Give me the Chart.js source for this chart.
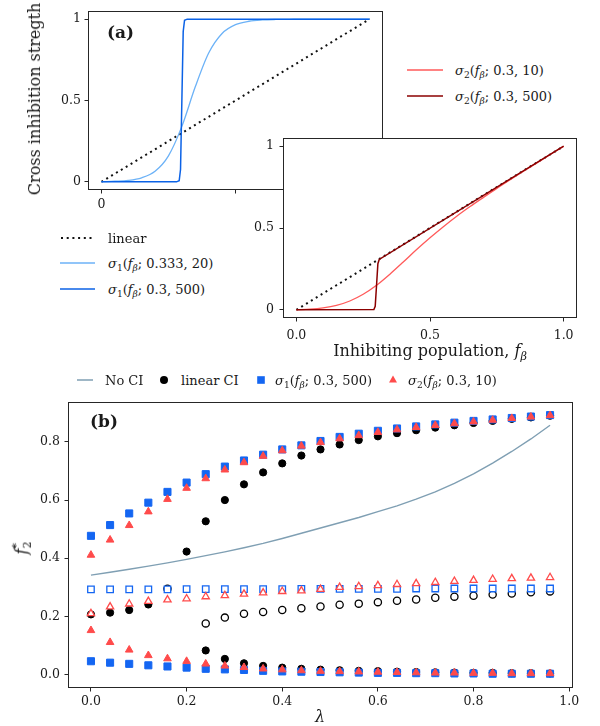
<!DOCTYPE html>
<html><head><meta charset="utf-8">
<script src="https://cdn.jsdelivr.net/npm/chart.js@4.4.1/dist/chart.umd.min.js"></script>
<style>
body{margin:0;background:#fff;width:600px;height:726px;position:relative;overflow:hidden;font-family:"DejaVu Serif",serif;color:#1a1a1a}
canvas{position:absolute}
.t{position:absolute;white-space:nowrap;font-size:13px;line-height:13px;transform:translateY(-50%)}
.lab{position:absolute;white-space:nowrap;font-size:16px;line-height:16px}
sub{font-size:70%;vertical-align:-0.35em;line-height:0}
sup{font-size:70%;vertical-align:0.5em;line-height:0}
svg{position:absolute;overflow:visible}
</style></head><body>
<canvas id="ca1" width="400" height="215" style="left:0;top:0"></canvas>
<canvas id="ca2" width="360" height="215" style="left:240px;top:125px"></canvas>
<canvas id="cb" width="600" height="336" style="left:0;top:390px"></canvas>

<!-- panel (a) texts -->
<div class="lab" style="left:107px;top:24px;font-weight:bold;font-size:17px;line-height:17px">(a)</div>
<div class="lab" style="left:35px;top:99px;transform:translate(-50%,-50%) rotate(-90deg)">Cross inhibition stregth</div>
<div class="lab" style="left:430px;top:351px;transform:translate(-50%,-50%)">Inhibiting population, <i>f</i><sub><i>β</i></sub></div>

<!-- panel (a) left legend -->
<svg style="left:60px;top:238px" width="36" height="2"><line x1="1" y1="0" x2="35" y2="0" stroke="#111" stroke-width="2" stroke-dasharray="2,3.7"/></svg>
<div class="t" style="left:108px;top:238px">linear</div>
<svg style="left:60px;top:263px" width="36" height="2"><line x1="0" y1="0" x2="35" y2="0" stroke="#6cb2f7" stroke-width="1.5"/></svg>
<div class="t" style="left:108px;top:263px"><i>σ</i><sub>1</sub>(<i>f</i><sub><i>β</i></sub>; 0.333, 20)</div>
<svg style="left:60px;top:289px" width="36" height="2"><line x1="0" y1="0" x2="35" y2="0" stroke="#0b62e6" stroke-width="1.5"/></svg>
<div class="t" style="left:108px;top:289px"><i>σ</i><sub>1</sub>(<i>f</i><sub><i>β</i></sub>; 0.3, 500)</div>

<!-- panel (a) right legend -->
<svg style="left:407px;top:70px" width="36" height="2"><line x1="0" y1="0" x2="36" y2="0" stroke="#ff5a5a" stroke-width="1.5"/></svg>
<div class="t" style="left:455px;top:70px"><i>σ</i><sub>2</sub>(<i>f</i><sub><i>β</i></sub>; 0.3, 10)</div>
<svg style="left:407px;top:96px" width="36" height="2"><line x1="0" y1="0" x2="36" y2="0" stroke="#8b0000" stroke-width="1.5"/></svg>
<div class="t" style="left:455px;top:96px"><i>σ</i><sub>2</sub>(<i>f</i><sub><i>β</i></sub>; 0.3, 500)</div>

<!-- panel (b) legend -->
<svg style="left:77px;top:380px" width="17" height="2"><line x1="0" y1="0" x2="16" y2="0" stroke="#7f9fb3" stroke-width="1.5"/></svg>
<div class="t" style="left:105px;top:380px">No CI</div>
<svg style="left:164px;top:380px" width="2" height="2"><circle cx="0" cy="0" r="4" fill="#000"/></svg>
<div class="t" style="left:181px;top:380px">linear CI</div>
<svg style="left:261px;top:380px" width="2" height="2"><rect x="-3.8" y="-3.8" width="7.6" height="7.6" fill="#1466f2"/></svg>
<div class="t" style="left:275px;top:380px"><i>σ</i><sub>1</sub>(<i>f</i><sub><i>β</i></sub>; 0.3, 500)</div>
<svg style="left:393px;top:380px" width="2" height="2"><polygon points="0,-4.6 4,2.4 -4,2.4" fill="#ff4b4b"/></svg>
<div class="t" style="left:408px;top:380px"><i>σ</i><sub>2</sub>(<i>f</i><sub><i>β</i></sub>; 0.3, 10)</div>

<!-- panel (b) texts -->
<div class="lab" style="left:90px;top:413px;font-weight:bold;font-size:17px;line-height:17px">(b)</div>
<div class="lab" style="left:22px;top:548px;transform:translate(-50%,-50%) rotate(-90deg)"><i>f</i><span style="display:inline-block;vertical-align:middle;font-size:70%;line-height:1;text-align:left"><span style="display:block">*</span><span style="display:block">2</span></span></div>
<div class="lab" style="left:320px;top:717px;transform:translate(-50%,-50%)"><i>λ</i></div>

<script>
// ---------- panel (b) data ----------
const lambda = [0,0.04,0.08,0.12,0.16,0.2,0.24,0.28,0.32,0.36,0.4,0.44,0.48,0.52,0.56,0.6,0.64,0.68,0.72,0.76,0.8,0.84,0.88,0.92,0.96];
const noCI = [0.342,0.352,0.362,0.373,0.384,0.396,0.409,0.422,0.436,0.451,0.468,0.486,0.504,0.522,0.540,0.560,0.580,0.603,0.628,0.657,0.690,0.727,0.767,0.810,0.857];
const linStable = [0.207,0.213,0.222,0.241,null,0.423,0.527,0.600,0.654,0.695,0.726,0.753,0.774,0.791,0.806,0.819,0.830,0.840,0.849,0.857,0.865,0.872,0.879,0.884,0.890];
const linStableLow = [null,null,null,null,null,null,0.083,0.054,0.039,0.030,0.024,0.020,0.017,0.015,0.013,0.012,0.010,0.009,0.008,0.007,0.006,0.006,0.005,0.005,0.004];
const linUnstable = [null,null,null,null,0.295,null,0.176,0.196,0.209,0.215,0.222,0.228,0.234,0.240,0.244,0.249,0.254,0.258,0.264,0.268,0.271,0.275,0.279,0.283,0.286];
const sig1High = [0.477,0.514,0.554,0.591,0.628,0.660,0.689,0.715,0.736,0.756,0.774,0.788,0.803,0.817,0.828,0.838,0.846,0.853,0.860,0.866,0.872,0.877,0.882,0.887,0.892];
const sig1Low = [0.046,0.041,0.037,0.032,0.028,0.024,0.020,0.018,0.016,0.013,0.011,0.010,0.009,0.008,0.007,0.006,0.006,0.005,0.005,0.004,0.004,0.003,0.003,0.003,0.003];
const sig1Unstable = [0.293,0.293,0.293,0.293,0.293,0.294,0.294,0.294,0.294,0.294,0.294,0.295,0.295,0.295,0.295,0.295,0.295,0.296,0.296,0.296,0.296,0.296,0.296,0.296,0.296];
const sig2High = [0.411,0.463,0.513,0.560,0.603,0.641,0.674,0.704,0.729,0.751,0.770,0.786,0.798,0.811,0.822,0.833,0.842,0.850,0.857,0.863,0.869,0.875,0.881,0.886,0.891];
const sig2Low = [0.152,0.111,0.085,0.066,0.055,0.046,0.037,0.030,0.025,0.020,0.017,0.014,0.012,0.011,0.010,0.009,0.008,0.007,0.006,0.006,0.005,0.005,0.004,0.004,0.004];
const sig2Unstable = [0.210,0.233,0.243,0.252,0.257,0.261,0.268,0.272,0.277,0.281,0.286,0.288,0.293,0.300,0.303,0.306,0.310,0.313,0.317,0.321,0.324,0.328,0.330,0.332,0.334];
const bTicksX = [0,0.2,0.4,0.6,0.8,1.0];
const bTicksY = [0,0.2,0.4,0.6,0.8];

// ---------- panel (a) data ----------
const fGrid = [0,0.05,0.1,0.15,0.2,0.25,0.3,0.35,0.4,0.45,0.5,0.55,0.6,0.65,0.7,0.75,0.8,0.85,0.9,0.95,1.0];
const sig1Soft = [0.001,0.004,0.009,0.025,0.065,0.160,0.341,0.584,0.792,0.912,0.966,0.987,0.995,0.998,0.999,1,1,1,1,1,1];
const sig1SharpX = [0,0.28,0.29,0.295,0.3,0.305,0.31,0.32,1];
const sig1Sharp = [0,0,0.007,0.076,0.5,0.924,0.993,1,1];
const sig2Soft = [0,0.004,0.012,0.027,0.054,0.095,0.150,0.218,0.292,0.368,0.440,0.508,0.572,0.631,0.687,0.742,0.795,0.847,0.898,0.949,0.999];
const sig2SharpX = [0,0.29,0.295,0.3,0.305,0.31,1];
const sig2Sharp = [0,0.002,0.022,0.15,0.282,0.308,1];
const linearX = [0,1];
const linearY = [0,1];

// ---------- helpers ----------
Chart.defaults.font.family = "DejaVu Serif";
Chart.defaults.color = "#1a1a1a";
const pts = (xs, ys) => xs.map((x,i)=>({x:x, y:ys[i]})).filter(p=>p.y!==null && p.y!==undefined);
const both = (a, b) => pts(lambda, a).concat(pts(lambda, b));
const INK = "#262626";

const framePlugin = {
  id: 'frame',
  beforeDraw(c, args, opts){
    if (opts && opts.fill){
      const a = c.chartArea, ctx = c.ctx;
      ctx.save(); ctx.fillStyle = '#fff';
      ctx.fillRect(a.left, a.top, a.right-a.left, a.bottom-a.top);
      ctx.restore();
    }
  },
  afterDraw(c){
    const a = c.chartArea, ctx = c.ctx;
    ctx.save(); ctx.strokeStyle = INK; ctx.lineWidth = 1;
    ctx.strokeRect(a.left+0.5, a.top+0.5, a.right-a.left-1, a.bottom-a.top-1);
    ctx.restore();
  }
};

function axis(opts){
  return {
    type:'linear', min:opts.min, max:opts.max,
    afterFit: opts.fit,
    afterBuildTicks: opts.ticksList ? (s)=>{ s.ticks = opts.ticksList.map(v=>({value:v})); } : undefined,
    border:{display:false},
    grid:{drawOnChartArea:false, drawTicks:true, tickLength:3.5, color:INK, lineWidth:1},
    ticks:{padding:opts.pad, font:{size:12.5}, color:'#1a1a1a', maxRotation:0, autoSkip:false, callback:opts.fmt}
  };
}

const lineDs = (data, color, extra) => Object.assign({data:data, borderColor:color, backgroundColor:color, borderWidth:1.5, pointRadius:0, fill:false, tension:0}, extra||{});

// ---------- chart (a) left ----------
new Chart(document.getElementById('ca1'), {
  type:'line',
  data:{datasets:[
    lineDs(pts(sig1SharpX, sig1Sharp), '#0b62e6'),
    lineDs(pts(fGrid, sig1Soft), '#6cb2f7', {cubicInterpolationMode:'monotone', borderWidth:1.3}),
    lineDs(pts(linearX, linearY), '#111', {borderDash:[2,3.7], borderWidth:2})
  ]},
  options:{
    responsive:false, animation:false, devicePixelRatio:1,
    layout:{padding:{left:0, top:8, right:17, bottom:0}},
    plugins:{legend:{display:false}, tooltip:{enabled:false}, frame:{fill:false}},
    scales:{
      x: axis({min:-0.05, max:1.05, pad:4, ticksList:[0,0.5,1], fit:s=>{s.height=25;}, fmt:v=>v===0?'0':''}),
      y: axis({min:-0.05, max:1.05, pad:3.5, ticksList:[0,0.5,1], fit:s=>{s.width=88;}, fmt:v=>v===0?'0':(v===1?'1':'0.5')})
    }
  },
  plugins:[framePlugin]
});

// ---------- chart (a) right ----------
new Chart(document.getElementById('ca2'), {
  type:'line',
  data:{datasets:[
    lineDs(pts(sig2SharpX, sig2Sharp), '#8b0000'),
    lineDs(pts(fGrid, sig2Soft), '#ff5a5a', {cubicInterpolationMode:'monotone', borderWidth:1.3}),
    lineDs(pts(linearX, linearY), '#111', {borderDash:[2,3.7], borderWidth:2})
  ]},
  options:{
    responsive:false, animation:false, devicePixelRatio:1,
    layout:{padding:{left:0, top:10, right:23, bottom:0}},
    plugins:{legend:{display:false}, tooltip:{enabled:false}, frame:{fill:true}},
    scales:{
      x: axis({min:-0.05, max:1.05, pad:6.5, ticksList:[0,0.5,1], fit:s=>{s.height=22;}, fmt:v=>v.toFixed(1)}),
      y: axis({min:-0.05, max:1.05, pad:5.5, ticksList:[0,0.5,1], fit:s=>{s.width=43;}, fmt:v=>v===0?'0':(v===1?'1':'0.5')})
    }
  },
  plugins:[framePlugin]
});

// ---------- chart (b) ----------
const BLUE = '#1466f2', RED = '#ff4b4b';
const mk = (data, style, r, fillC, edgeC, bw, order) => ({
  data:data, showLine:false, pointStyle:style, pointRadius:r, pointHoverRadius:r,
  pointBackgroundColor:fillC, pointBorderColor:edgeC, pointBorderWidth:bw,
  borderColor:edgeC, backgroundColor:fillC, order:order
});
new Chart(document.getElementById('cb'), {
  type:'line',
  data:{datasets:[
    mk(both(sig2High, sig2Low), 'triangle', 4.4, RED, RED, 1, 1),
    mk(pts(lambda, sig2Unstable), 'triangle', 4.2, '#fff', RED, 1.3, 2),
    mk(both(sig1High, sig1Low), 'rect', 5, BLUE, BLUE, 1, 3),
    mk(pts(lambda, sig1Unstable), 'rect', 4.6, '#fff', BLUE, 1.3, 4),
    mk(both(linStable, linStableLow), 'circle', 3.6, '#000', '#000', 1, 5),
    mk(pts(lambda, linUnstable), 'circle', 3.6, 'rgba(0,0,0,0)', '#000', 1.3, 6),
    Object.assign(lineDs(pts(lambda, noCI), '#7f9fb3', {borderWidth:1.4}), {order:7})
  ]},
  options:{
    responsive:false, animation:false, devicePixelRatio:1,
    layout:{padding:{left:0, top:6, right:27, bottom:0}},
    plugins:{legend:{display:false}, tooltip:{enabled:false}, frame:{fill:false}},
    scales:{
      x: axis({min:-0.048, max:1.008, pad:3, ticksList:bTicksX, fit:s=>{s.height=38;}, fmt:v=>v.toFixed(1)}),
      y: axis({min:-0.046, max:0.937, pad:4.5, ticksList:bTicksY, fit:s=>{s.width=68;}, fmt:v=>v.toFixed(1)})
    }
  },
  plugins:[framePlugin]
});
</script>
</body></html>
